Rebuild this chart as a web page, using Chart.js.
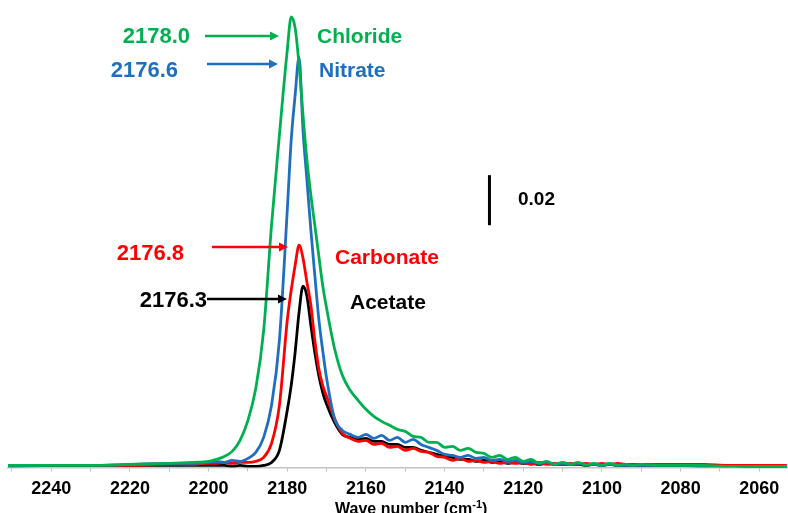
<!DOCTYPE html>
<html>
<head>
<meta charset="utf-8">
<script src="https://cdn.jsdelivr.net/npm/chart.js@4.4.1/dist/chart.umd.min.js"></script>
<style>
  html, body { margin: 0; padding: 0; background: #fff; }
  #wrap { width: 788px; height: 513px; }
</style>
</head>
<body>
<div id="wrap"><canvas id="spectrum"></canvas></div>
<script>
// wave numbers (cm-1)
const waveNumbers = [
  2251, 2240, 2230, 2220, 2210, 2204,
  2200, 2198, 2196, 2194, 2192, 2190, 2188, 2186, 2184, 2182, 2180,
  2179, 2178, 2177, 2176, 2175, 2174, 2173, 2172, 2171,
  2170, 2168, 2166, 2164, 2162,
  2160, 2158, 2156, 2154, 2152, 2150, 2148, 2146, 2144, 2142,
  2140, 2138, 2136, 2134, 2132, 2130, 2128, 2126, 2124, 2122,
  2120, 2118, 2116, 2114, 2112, 2110, 2108, 2106, 2104, 2102,
  2100, 2098, 2096, 2094, 2092, 2090,
  2086, 2080, 2074, 2068, 2062, 2056, 2053
];

// absorbance of each sample
const chloride = [
  0.0008, 0.0008, 0.0008, 0.0012, 0.0016, 0.002,
  0.0024, 0.0032, 0.0044, 0.0064, 0.0108, 0.0188, 0.0316, 0.0548, 0.0968, 0.1328, 0.1668,
  0.18, 0.1756, 0.1608, 0.1408, 0.1228, 0.1088, 0.0968, 0.0848, 0.0728,
  0.0636, 0.0476, 0.0368, 0.0308, 0.0268,
  0.0232, 0.0204, 0.0184, 0.0168, 0.0152, 0.0144, 0.0124, 0.012, 0.01, 0.01,
  0.008, 0.0084, 0.0068, 0.0076, 0.006, 0.0056, 0.004, 0.0048, 0.0032, 0.004,
  0.0024, 0.0032, 0.0016, 0.0024, 0.0012, 0.002, 0.0012, 0.002, 0.0008, 0.0016,
  0.0008, 0.0016, 0.0008, 0.0012, 0.0008, 0.0012,
  0.0008, 0.0008, 0.0008, 0.0004, 0.0004, 0.0004, 0.0004
];
const nitrate = [
  0.0004, 0.0008, 0.0008, 0.0012, 0.0016, 0.0016,
  0.002, 0.0024, 0.002, 0.0028, 0.0024, 0.0036, 0.006, 0.012, 0.0248, 0.0508, 0.1028,
  0.1308, 0.1488, 0.164, 0.1348, 0.1148, 0.0948, 0.0768, 0.0596, 0.0468,
  0.0356, 0.0196, 0.0148, 0.0132, 0.012,
  0.0132, 0.0116, 0.0128, 0.0108, 0.012, 0.01, 0.0112, 0.0092, 0.008, 0.0068,
  0.0052, 0.0048, 0.004, 0.0048, 0.0036, 0.004, 0.0028, 0.0032, 0.0024, 0.0028,
  0.002, 0.0024, 0.0016, 0.002, 0.0012, 0.0016, 0.0012, 0.0016, 0.0012, 0.0012,
  0.0008, 0.0012, 0.0008, 0.0008, 0.0008, 0.0008,
  0.0008, 0.0008, 0.0004, 0.0004, 0.0004, 0.0004, 0.0004
];
const carbonate = [
  0.0008, 0.0008, 0.0008, 0.0008, 0.0012, 0.0012,
  0.0016, 0.0016, 0.002, 0.0016, 0.002, 0.002, 0.0024, 0.004, 0.0096, 0.0248, 0.0588,
  0.0708, 0.0808, 0.0888, 0.0836, 0.074, 0.0648, 0.0508, 0.0396, 0.0328,
  0.0284, 0.0196, 0.0136, 0.0116, 0.0104,
  0.0108, 0.0092, 0.0096, 0.008, 0.0084, 0.0068, 0.0076, 0.0064, 0.006, 0.0044,
  0.004, 0.0028, 0.0036, 0.0024, 0.0028, 0.002, 0.0024, 0.0016, 0.002, 0.0016,
  0.002, 0.0012, 0.002, 0.0012, 0.0016, 0.0012, 0.0016, 0.0012, 0.0016, 0.0012,
  0.0016, 0.0012, 0.0016, 0.0012, 0.0012, 0.0012,
  0.0012, 0.0012, 0.0012, 0.0008, 0.0008, 0.0008, 0.0008
];
const acetate = [
  0.0008, 0.0008, 0.0008, 0.0008, 0.0008, 0.0008,
  0.0008, 0.0008, 0.0008, 0.0004, 0.0008, 0.0004, 0.0004, 0.0008, 0.002, 0.0068, 0.0228,
  0.0328, 0.046, 0.062, 0.0724, 0.0684, 0.0568, 0.046, 0.0368, 0.03,
  0.0252, 0.018, 0.0132, 0.012, 0.0112,
  0.0116, 0.0104, 0.0104, 0.0092, 0.0092, 0.008, 0.008, 0.0068, 0.006, 0.0052,
  0.0044, 0.004, 0.0032, 0.0032, 0.0024, 0.0028, 0.002, 0.0024, 0.0016, 0.002,
  0.0016, 0.0016, 0.0012, 0.0016, 0.0012, 0.0012, 0.0012, 0.0012, 0.0008, 0.0012,
  0.0008, 0.0012, 0.0008, 0.0008, 0.0008, 0.0008,
  0.0008, 0.0008, 0.0008, 0.0008, 0.0004, 0.0004, 0.0004
];

const anions = ['Chloride', 'Nitrate', 'Carbonate', 'Acetate'];
const peakLabels = ['2178.0', '2176.6', '2176.8', '2176.3'];
const scaleBarValue = 0.02;

const colors = ['#00b050', '#1f6fc0', '#ff0000', '#000000'];
const series = [chloride, nitrate, carbonate, acetate];

// where the labels and arrows sit (canvas px)
const notes = [
  { num: [190, 37], arrow: [205, 279, 36], name: [317, 37] },
  { num: [178, 71], arrow: [207, 278, 64], name: [319, 71] },
  { num: [184, 254], arrow: [212, 288, 247], name: [335, 258] },
  { num: [207, 301], arrow: [207, 287, 299], name: [350, 303] }
];

const annotate = {
  id: 'annotate',
  afterDraw(chart) {
    const ctx = chart.ctx;
    const { x, y } = chart.scales;
    ctx.save();
    ctx.textBaseline = 'middle';

    notes.forEach((n, i) => {
      ctx.fillStyle = colors[i];
      ctx.strokeStyle = colors[i];
      ctx.font = 'bold 22px "Liberation Sans", Arial, sans-serif';
      ctx.textAlign = 'right';
      ctx.fillText(peakLabels[i], n.num[0], n.num[1]);
      ctx.font = 'bold 21px "Liberation Sans", Arial, sans-serif';
      ctx.textAlign = 'left';
      ctx.fillText(anions[i], n.name[0], n.name[1]);

      const [x0, x1, ay] = n.arrow;
      ctx.lineWidth = 2.5;
      ctx.beginPath();
      ctx.moveTo(x0, ay);
      ctx.lineTo(x1 - 7, ay);
      ctx.stroke();
      ctx.beginPath();
      ctx.moveTo(x1, ay);
      ctx.lineTo(x1 - 9, ay - 4.5);
      ctx.lineTo(x1 - 9, ay + 4.5);
      ctx.closePath();
      ctx.fill();
    });

    // 0.02 absorbance scale bar
    const bx = x.getPixelForValue(2128.6);
    const by0 = y.getPixelForValue(0.0968);
    const by1 = y.getPixelForValue(0.0968 + scaleBarValue);
    ctx.strokeStyle = '#000';
    ctx.lineWidth = 3;
    ctx.beginPath();
    ctx.moveTo(bx, by0);
    ctx.lineTo(bx, by1);
    ctx.stroke();
    ctx.fillStyle = '#000';
    ctx.font = 'bold 19px "Liberation Sans", Arial, sans-serif';
    ctx.textAlign = 'left';
    ctx.fillText(scaleBarValue.toFixed(2), 518, (by0 + by1) / 2);

    // axis title with superscript
    ctx.textBaseline = 'alphabetic';
    ctx.font = 'bold 16px "Liberation Sans", Arial, sans-serif';
    let tx = 335;
    const ty = 514;
    const main = 'Wave number (cm';
    ctx.fillText(main, tx, ty);
    tx += ctx.measureText(main).width;
    ctx.font = 'bold 11px "Liberation Sans", Arial, sans-serif';
    ctx.fillText('-1', tx, ty - 6);
    tx += ctx.measureText('-1').width;
    ctx.font = 'bold 16px "Liberation Sans", Arial, sans-serif';
    ctx.fillText(')', tx, ty);
    ctx.restore();
  }
};

new Chart(document.getElementById('spectrum'), {
  type: 'line',
  data: {
    datasets: series.map((vals, i) => ({
      label: anions[i],
      data: waveNumbers.map((w, k) => ({ x: w, y: vals[k] })),
      borderColor: colors[i],
      borderWidth: 2.8,
      pointRadius: 0,
      fill: false,
      cubicInterpolationMode: 'monotone'
    }))
  },
  options: {
    responsive: true,
    maintainAspectRatio: false,
    devicePixelRatio: 1,
    animation: false,
    layout: { padding: { left: 8, right: 0, top: 0, bottom: 6 } },
    plugins: { legend: { display: false }, tooltip: { enabled: false } },
    scales: {
      x: {
        type: 'linear',
        reverse: true,
        min: 2052.7,
        max: 2251,
        // one tick every 10 cm-1, labelled every 20
        afterBuildTicks: scale => {
          const ticks = [];
          for (let v = 2060; v <= 2250; v += 10) ticks.push({ value: v });
          scale.ticks = ticks;
        },
        ticks: {
          autoSkip: false,
          maxRotation: 0,
          padding: 7,
          color: '#000',
          font: { family: '"Liberation Sans", Arial, sans-serif', size: 18, weight: 'bold' },
          callback: v => (v % 20 === 0 ? String(v) : '')
        },
        grid: { drawOnChartArea: false, drawTicks: true, tickLength: 4, color: '#bdbdbd' },
        border: { display: true, color: '#c4c4c4', width: 1.5 }
      },
      y: { display: false, min: 0, max: 0.1868 }
    }
  },
  plugins: [annotate]
});
</script>
</body>
</html>
